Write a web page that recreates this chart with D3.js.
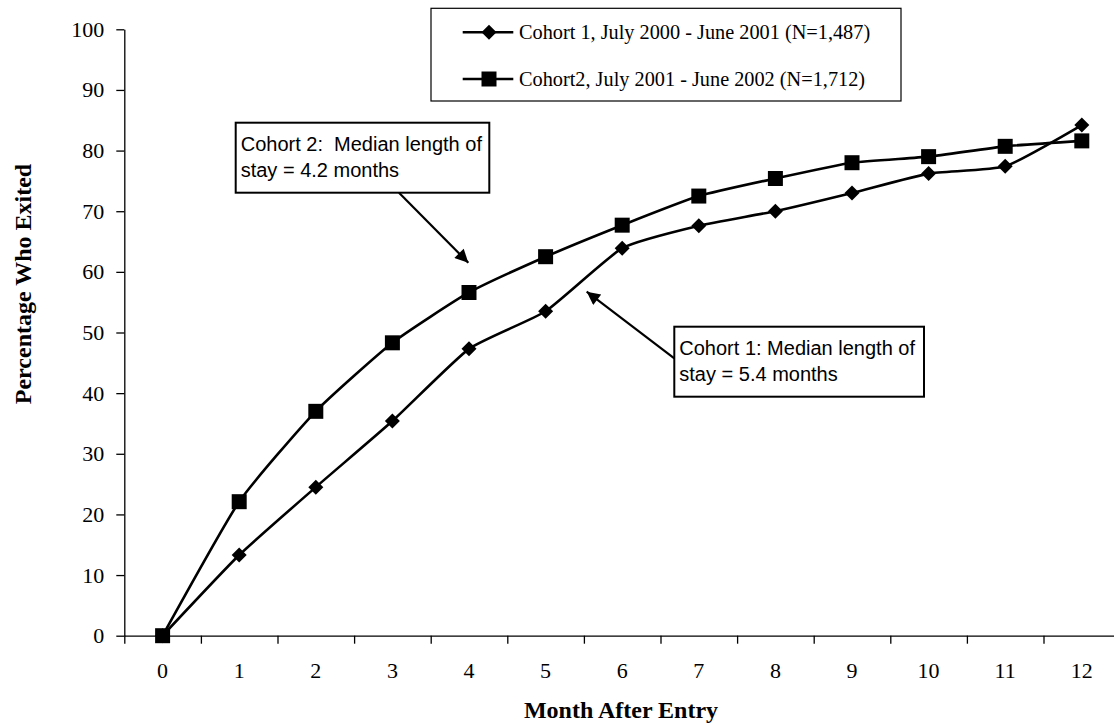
<!DOCTYPE html>
<html>
<head>
<meta charset="utf-8">
<title>Percentage Who Exited</title>
<script src="https://d3js.org/d3.v7.min.js"></script>
<style>
  body { margin: 0; background: #fff; }
  svg { display: block; }
  .serif { font-family: "Liberation Serif", "Times New Roman", serif; }
  .sans { font-family: "Liberation Sans", Arial, sans-serif; white-space: pre; }
</style>
</head>
<body>
<svg id="chart"></svg>
<script>
// data
const months = [0, 1, 2, 3, 4, 5, 6, 7, 8, 9, 10, 11, 12];
const cohort1 = [0, 13.3, 24.5, 35.4, 47.3, 53.5, 63.9, 67.6, 70.0, 73.0, 76.2, 77.4, 84.2];
const cohort2 = [0, 22.1, 37.0, 48.3, 56.6, 62.5, 67.7, 72.5, 75.4, 78.0, 79.0, 80.7, 81.6];
const yTicks = [0, 10, 20, 30, 40, 50, 60, 70, 80, 90, 100];
const legendLabels = [
  'Cohort 1, July 2000 - June 2001 (N=1,487)',
  'Cohort2, July 2001 - June 2002 (N=1,712)'
];
const note2 = ['Cohort 2:  Median length of', 'stay = 4.2 months'];
const note1 = ['Cohort 1: Median length of', 'stay = 5.4 months'];

const W = 1114, H = 724;
const svg = d3.select('#chart').attr('width', W).attr('height', H);

const plotLeft = 124.3, plotTop = 29.3, plotBottom = 635.7;
const step = 76.6;
const plotRight = plotLeft + months.length * step;

const xb = d3.scaleBand().domain(months).range([plotLeft, plotRight]);
const xl = d3.scaleLinear().domain([0, months.length]).range([plotLeft, plotRight]);
const y = d3.scaleLinear().domain([0, 100]).range([plotBottom, plotTop]);
const cx = d => xb(d) + xb.bandwidth() / 2;

// y axis
const gy = svg.append('g').attr('transform', `translate(${plotLeft},0)`)
  .call(d3.axisLeft(y).tickValues(yTicks).tickSize(8).tickSizeOuter(0).tickPadding(12));
gy.select('.domain').attr('stroke', '#000').attr('stroke-width', 1.3);
gy.selectAll('.tick line').attr('stroke', '#000').attr('stroke-width', 1.3);
gy.selectAll('.tick text').attr('class', 'serif').attr('font-size', 22).attr('fill', '#000');

// x axis: ticks between categories, labels centred
const gx = svg.append('g').attr('transform', `translate(0,${plotBottom})`)
  .call(d3.axisBottom(xl).tickValues(d3.range(months.length + 1)).tickSize(8).tickSizeOuter(0).tickFormat(''));
gx.select('.domain').attr('stroke', '#000').attr('stroke-width', 1.3);
gx.selectAll('.tick line').attr('stroke', '#000').attr('stroke-width', 1.3);

const gxl = svg.append('g').attr('transform', `translate(0,${plotBottom})`)
  .call(d3.axisBottom(xb).tickSize(0).tickPadding(27));
gxl.select('.domain').remove();
gxl.selectAll('.tick text').attr('class', 'serif').attr('font-size', 22).attr('fill', '#000');

// axis titles
svg.append('text').attr('class', 'serif')
  .attr('x', 621).attr('y', 718)
  .attr('text-anchor', 'middle').attr('font-size', 24).attr('font-weight', 'bold')
  .text('Month After Entry');
svg.append('text').attr('class', 'serif')
  .attr('transform', 'translate(31,284) rotate(-90)')
  .attr('text-anchor', 'middle').attr('font-size', 24).attr('font-weight', 'bold')
  .text('Percentage Who Exited');

// markers
function diamond(x0, y0, r) {
  return `M${x0},${y0 - r}L${x0 + r},${y0}L${x0},${y0 + r}L${x0 - r},${y0}Z`;
}
function square(x0, y0, r) {
  return `M${x0 - r},${y0 - r}h${2 * r}v${2 * r}h${-2 * r}Z`;
}

const line = d3.line().x((d, i) => cx(months[i])).y(d => y(d)).curve(d3.curveCardinal.tension(0.5));

[cohort1, cohort2].forEach(vals => {
  svg.append('path').attr('d', line(vals))
    .attr('fill', 'none').attr('stroke', '#000').attr('stroke-width', 2.6);
});
svg.append('g').selectAll('path').data(cohort1).join('path')
  .attr('d', (d, i) => diamond(cx(months[i]), y(d), 7.5)).attr('fill', '#000');
svg.append('g').selectAll('path').data(cohort2).join('path')
  .attr('d', (d, i) => square(cx(months[i]), y(d), 7.5)).attr('fill', '#000');

// legend
const lg = svg.append('g');
lg.append('rect').attr('x', 431).attr('y', 8.3).attr('width', 470).attr('height', 92.7)
  .attr('fill', '#fff').attr('stroke', '#000').attr('stroke-width', 1.2);
const rowsY = [32.3, 79];
legendLabels.forEach((lab, i) => {
  const ry = rowsY[i];
  lg.append('line').attr('x1', 462.7).attr('x2', 513.3).attr('y1', ry).attr('y2', ry)
    .attr('stroke', '#000').attr('stroke-width', 2.6);
  lg.append('path').attr('d', i === 0 ? diamond(489, ry, 7.5) : square(489, ry, 7.5)).attr('fill', '#000');
  lg.append('text').attr('class', 'serif').attr('x', 519).attr('y', ry + 7)
    .attr('font-size', 20.3).attr('fill', '#000').text(lab);
});

// callouts
svg.append('defs').append('marker')
  .attr('id', 'arrow').attr('viewBox', '0 0 10 10').attr('refX', 10).attr('refY', 5)
  .attr('markerWidth', 7).attr('markerHeight', 6).attr('markerUnits', 'strokeWidth')
  .attr('orient', 'auto')
  .append('path').attr('d', 'M0,0L10,5L0,10Z').attr('fill', '#000');

function callout(box, lines, from, to) {
  svg.append('line').attr('x1', from[0]).attr('y1', from[1]).attr('x2', to[0]).attr('y2', to[1])
    .attr('stroke', '#000').attr('stroke-width', 2.2).attr('marker-end', 'url(#arrow)');
  svg.append('rect').attr('x', box[0]).attr('y', box[1]).attr('width', box[2] - box[0]).attr('height', box[3] - box[1])
    .attr('fill', '#fff').attr('stroke', '#000').attr('stroke-width', 2);
  lines.forEach((t, i) => {
    svg.append('text').attr('class', 'sans').attr('x', box[0] + 5).attr('y', box[1] + 28.5 + i * 25.3)
      .attr('font-size', 20).attr('fill', '#000').text(t);
  });
}
callout([235.7, 122.7, 489.3, 192.7], note2, [399, 192.7], [468.3, 262.7]);
callout([674.3, 326.7, 924, 396.7], note1, [674.3, 358.3], [586.7, 291.7]);
</script>
</body>
</html>
